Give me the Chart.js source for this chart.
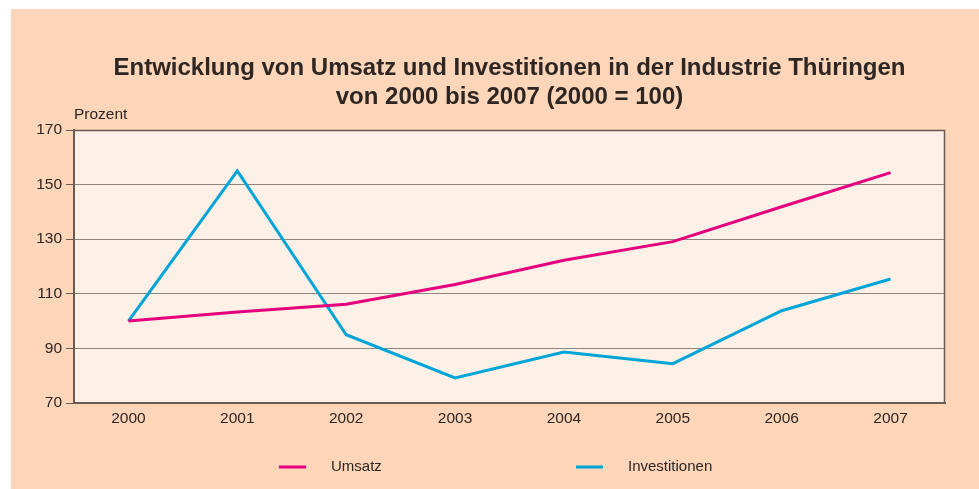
<!DOCTYPE html>
<html>
<head>
<meta charset="utf-8">
<script src="https://cdn.jsdelivr.net/npm/chart.js@4.4.0/dist/chart.umd.min.js"></script>
<style>
  html, body { margin: 0; padding: 0; background: #ffffff; }
  #wrap { width: 979px; height: 489px; }
</style>
</head>
<body>
<div id="wrap"><canvas id="chart" width="979" height="489"></canvas></div>
<script>
//data
const years = ["2000", "2001", "2002", "2003", "2004", "2005", "2006", "2007"];
const umsatz = [100, 103.3, 106.2, 113.4, 122.3, 129.1, 141.9, 154.4];
const investitionen = [100, 155.0, 95.0, 79.2, 88.7, 84.4, 103.8, 115.4];
const titleLines = [
  "Entwicklung von Umsatz und Investitionen in der Industrie Thüringen",
  "von 2000 bis 2007 (2000 = 100)",
];
const yUnit = "Prozent";

const ctx = document.getElementById("chart").getContext("2d");
const textColor = "#2e2623";
const fontFamily = "'Liberation Sans', Arial, sans-serif";

//backgrounds, frame, title, unit and legend
const decorPlugin = {
  id: "decor",
  beforeDraw(chart) {
    const c = chart.ctx;
    const a = chart.chartArea;
    c.save();
    c.fillStyle = "#ffffff";
    c.fillRect(0, 0, chart.width, chart.height);
    c.fillStyle = "#fdd5b9";
    c.fillRect(11, 9, chart.width - 11, chart.height - 9);
    c.fillStyle = "#fdf0e7";
    c.fillRect(a.left, a.top, a.right - a.left, a.bottom - a.top);
    c.restore();
  },
  afterDraw(chart) {
    const c = chart.ctx;
    const a = chart.chartArea;
    c.save();
    //thin frame on top and right
    c.strokeStyle = "#6b5a50";
    c.lineWidth = 1.5;
    c.beginPath();
    c.moveTo(a.left, a.top + 0.5);
    c.lineTo(a.right - 0.5, a.top + 0.5);
    c.lineTo(a.right - 0.5, a.bottom);
    c.stroke();

    //title
    const cx = (a.left + a.right) / 2;
    c.fillStyle = textColor;
    c.textAlign = "center";
    c.textBaseline = "alphabetic";
    c.font = "bold 24px " + fontFamily;
    c.fillText(titleLines[0], cx, 75);
    c.fillText(titleLines[1], cx, 104);

    //unit label
    c.font = "15.5px " + fontFamily;
    c.textAlign = "left";
    c.textBaseline = "middle";
    c.fillText(yUnit, a.left, 115);

    //legend
    c.font = "15px " + fontFamily;
    const items = [
      { label: "Umsatz", color: "#e5007d", x: 279 },
      { label: "Investitionen", color: "#00a5d8", x: 576 },
    ];
    items.forEach((item) => {
      c.strokeStyle = item.color;
      c.lineWidth = 3;
      c.beginPath();
      c.moveTo(item.x, 467);
      c.lineTo(item.x + 27, 467);
      c.stroke();
      c.fillStyle = textColor;
      c.fillText(item.label, item.x + 52, 467);
    });
    c.restore();
  },
};

function setUpChart() {
  new Chart(ctx, {
    type: "line",
    data: {
      labels: years,
      datasets: [
        {
          label: "Umsatz",
          data: umsatz,
          borderColor: "#e5007d",
          borderWidth: 3,
          pointRadius: 0,
          tension: 0,
        },
        {
          label: "Investitionen",
          data: investitionen,
          borderColor: "#00a5d8",
          borderWidth: 3,
          pointRadius: 0,
          tension: 0,
        },
      ],
    },
    options: {
      animation: false,
      responsive: false,
      maintainAspectRatio: false,
      layout: { padding: { top: 130, right: 34, left: 0, bottom: 0 } },
      plugins: {
        legend: { display: false },
        title: { display: false },
        tooltip: { enabled: false },
      },
      scales: {
        x: {
          offset: true,
          grid: { display: false, drawTicks: false },
          border: { display: true, color: "#6b5a50", width: 2 },
          ticks: {
            color: textColor,
            padding: 6,
            font: { family: fontFamily, size: 15.5 },
          },
          afterFit(axis) {
            axis.height = 86;
          },
        },
        y: {
          min: 70,
          max: 170,
          ticks: {
            stepSize: 20,
            color: textColor,
            padding: 4,
            font: { family: fontFamily, size: 15.5 },
          },
          grid: {
            color: "#8c8580",
            lineWidth: 1,
            tickColor: "#6b5a50",
            tickLength: 8,
          },
          border: { display: true, color: "#6b5a50", width: 2 },
          afterFit(axis) {
            axis.width = 74;
          },
        },
      },
    },
    plugins: [decorPlugin],
  });
}
setUpChart();
</script>
</body>
</html>
